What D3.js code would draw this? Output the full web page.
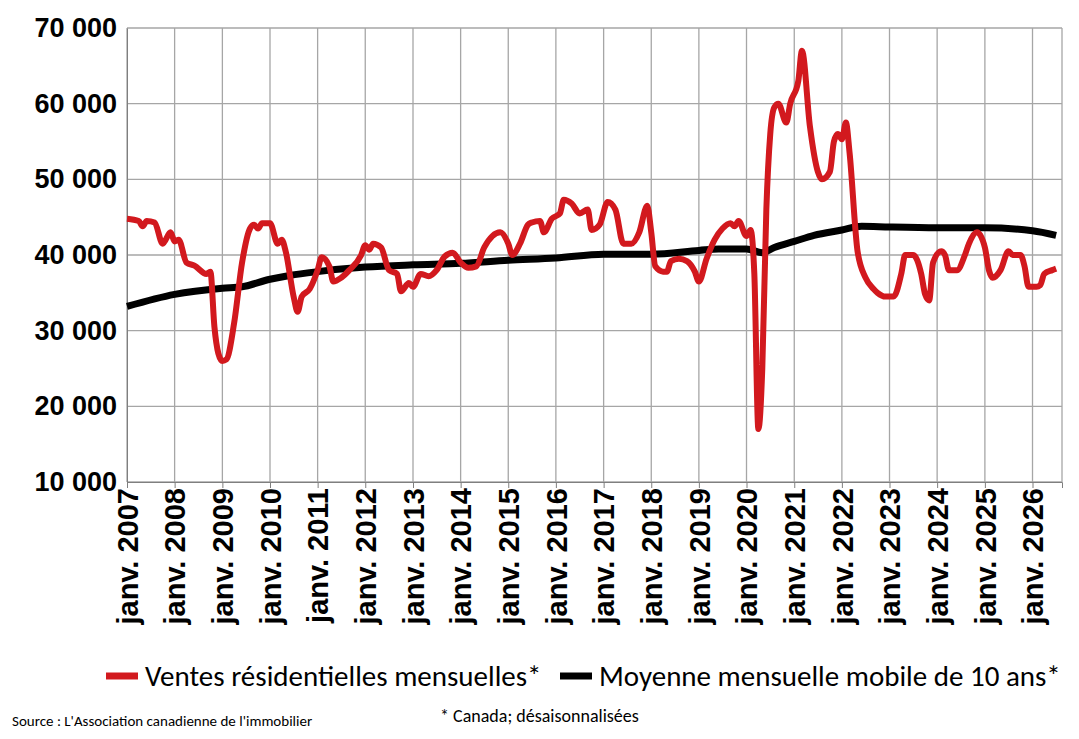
<!DOCTYPE html>
<html><head><meta charset="utf-8">
<script src="https://cdn.jsdelivr.net/npm/d3@7"></script>
<style>body{margin:0;background:#fff;font-family:Calibri,"Liberation Sans",Arial,sans-serif}</style>
</head><body><svg id="c" width="1079" height="739"></svg>
<script>
const salesDates=["2007-01","2007-04","2007-05","2007-06","2007-08","2007-10","2007-12","2008-01","2008-02","2008-04","2008-06","2008-09","2008-10","2008-11","2008-12","2009-01","2009-02","2009-04","2009-06","2009-08","2009-09","2009-10","2009-11","2010-01","2010-03","2010-04","2010-05","2010-07","2010-08","2010-09","2010-11","2011-01","2011-02","2011-04","2011-05","2011-07","2011-09","2011-12","2012-01","2012-02","2012-03","2012-05","2012-07","2012-09","2012-10","2012-12","2013-01","2013-03","2013-05","2013-07","2013-09","2013-11","2014-01","2014-03","2014-05","2014-07","2014-09","2014-11","2015-01","2015-02","2015-04","2015-06","2015-07","2015-09","2015-10","2015-12","2016-02","2016-03","2016-05","2016-07","2016-09","2016-10","2016-12","2017-02","2017-04","2017-06","2017-08","2017-10","2017-12","2018-01","2018-02","2018-04","2018-05","2018-06","2018-08","2018-10","2018-12","2019-01","2019-03","2019-05","2019-07","2019-09","2019-10","2019-11","2020-01","2020-02","2020-03","2020-04","2020-05","2020-06","2020-07","2020-08","2020-09","2020-11","2020-12","2021-02","2021-03","2021-05","2021-07","2021-08","2021-10","2021-11","2021-12","2022-01","2022-02","2022-03","2022-05","2022-07","2022-09","2022-10","2022-12","2023-02","2023-04","2023-05","2023-07","2023-09","2023-10","2023-11","2023-12","2024-02","2024-03","2024-04","2024-06","2024-08","2024-09","2024-11","2025-01","2025-02","2025-03","2025-05","2025-07","2025-08","2025-10","2025-11","2025-12","2026-02","2026-03","2026-04","2026-06","2026-07"];
const salesValues=[44800,44500,43800,44500,44300,41500,43000,41800,42000,39000,38600,37500,37800,30500,27000,26000,26200,31000,39000,43500,44000,43500,44200,44200,41500,42000,40500,34500,32500,34500,35500,38000,39700,38500,36500,37000,38000,40000,41300,40700,41500,41000,38000,37500,35200,36300,35800,37500,37200,38000,39800,40300,39000,38300,38500,41000,42500,43000,41500,40000,41500,44000,44300,44500,43000,44800,45500,47300,46800,45500,46000,43300,44000,47000,46000,41500,41500,43000,46500,43000,38500,37800,37800,39200,39500,39200,37800,36500,39500,42000,43500,44200,43800,44500,42500,43300,37500,17000,25000,46000,56000,59500,60000,57500,60000,63000,67000,57000,51000,50000,51000,55000,56000,55300,57500,53500,40500,37000,35500,35000,34500,34500,37500,40000,40000,37500,34800,34000,39000,40500,40000,38000,38000,40000,41500,43000,41000,38000,37000,38000,40500,40000,40000,38500,35800,35800,36000,37500,38000,38200];
const maDates=["2007-01","2008-01","2009-01","2009-06","2010-01","2010-06","2011-01","2012-01","2013-01","2014-01","2015-01","2016-01","2017-01","2018-01","2019-01","2019-06","2020-01","2020-05","2020-08","2021-01","2021-06","2022-01","2022-06","2023-01","2024-01","2025-01","2026-01","2026-07"];
const maValues=[33200,34800,35600,35800,36800,37300,37800,38400,38700,38900,39300,39600,40100,40100,40600,40800,40800,40300,41000,41800,42600,43300,43800,43700,43600,43600,43200,42600];
const yTicks=[10000,20000,30000,40000,50000,60000,70000];
const years=d3.range(2007,2027);
const seriesNames=["Ventes résidentielles mensuelles*","Moyenne mensuelle mobile de 10 ans*"];

const p=d3.timeParse("%Y-%m");
const svg=d3.select("#c");
const L=127,R=1062,T=28,B=482;
const x=d3.scaleTime().domain([p("2007-01"),new Date(2026,7,15)]).range([L,R]);
const y=d3.scaleLinear().domain([10000,70000]).range([B,T]);
const fmt=v=>d3.format(",")(v).replace(/,/g," ");
const g=svg.append("g");
g.selectAll(".hg").data(yTicks).join("line").attr("x1",L).attr("x2",R).attr("y1",d=>y(d)).attr("y2",d=>y(d)).attr("stroke","#a6a6a6").attr("stroke-width",1.3);
const jan=years.map(yr=>new Date(yr,0,1));
g.selectAll(".vg").data(jan.concat([x.domain()[1]])).join("line").attr("x1",d=>x(d)).attr("x2",d=>x(d)).attr("y1",T).attr("y2",B).attr("stroke","#a6a6a6").attr("stroke-width",1.3);
const ya=svg.append("g").attr("transform",`translate(${L},0)`).call(d3.axisLeft(y).tickValues(yTicks).tickFormat(fmt).tickSize(0).tickPadding(10));
ya.select(".domain").attr("stroke","#7f7f7f");
ya.selectAll("text").attr("font-size",27).attr("font-weight","bold").attr("fill","#000");
const xa=svg.append("g").attr("transform",`translate(0,${B})`).call(d3.axisBottom(x).tickValues(jan).tickFormat(d=>"janv. "+d.getFullYear()).tickSize(6));
xa.select(".domain").attr("stroke","#7f7f7f");
xa.selectAll("line").attr("stroke","#7f7f7f");
xa.selectAll("text").attr("font-size",29).attr("font-weight","bold").attr("fill","#000")
  .attr("transform","rotate(-90)").attr("text-anchor","end").attr("dx","-6").attr("dy","0.35em").attr("x",0).attr("y",0);
const line=d3.line().x(d=>x(d[0])).y(d=>y(d[1])).curve(d3.curveMonotoneX);
const sales=salesDates.map((d,i)=>[p(d),salesValues[i]]);
const ma=maDates.map((d,i)=>[p(d),maValues[i]]);
svg.append("path").attr("d",line(ma)).attr("fill","none").attr("stroke","#000").attr("stroke-width",7);
svg.append("path").attr("d",line(sales)).attr("fill","none").attr("stroke","#d2191e").attr("stroke-width",6).attr("stroke-linejoin","round");
const lg=svg.append("g");
lg.append("line").attr("x1",106).attr("x2",138).attr("y1",676).attr("y2",676).attr("stroke","#d2191e").attr("stroke-width",7);
lg.append("text").attr("x",145).attr("y",686).text(seriesNames[0]).attr("font-size",29).attr("fill","#000");
lg.append("line").attr("x1",560).attr("x2",592).attr("y1",676).attr("y2",676).attr("stroke","#000").attr("stroke-width",7);
lg.append("text").attr("x",599).attr("y",686).text(seriesNames[1]).attr("font-size",29).attr("fill","#000");
svg.append("text").attr("x",12).attr("y",726).text("Source : L'Association canadienne de l'immobilier").attr("font-size",15);
svg.append("text").attr("x",440).attr("y",722).text("* Canada; désaisonnalisées").attr("font-size",18);
</script></body></html>
